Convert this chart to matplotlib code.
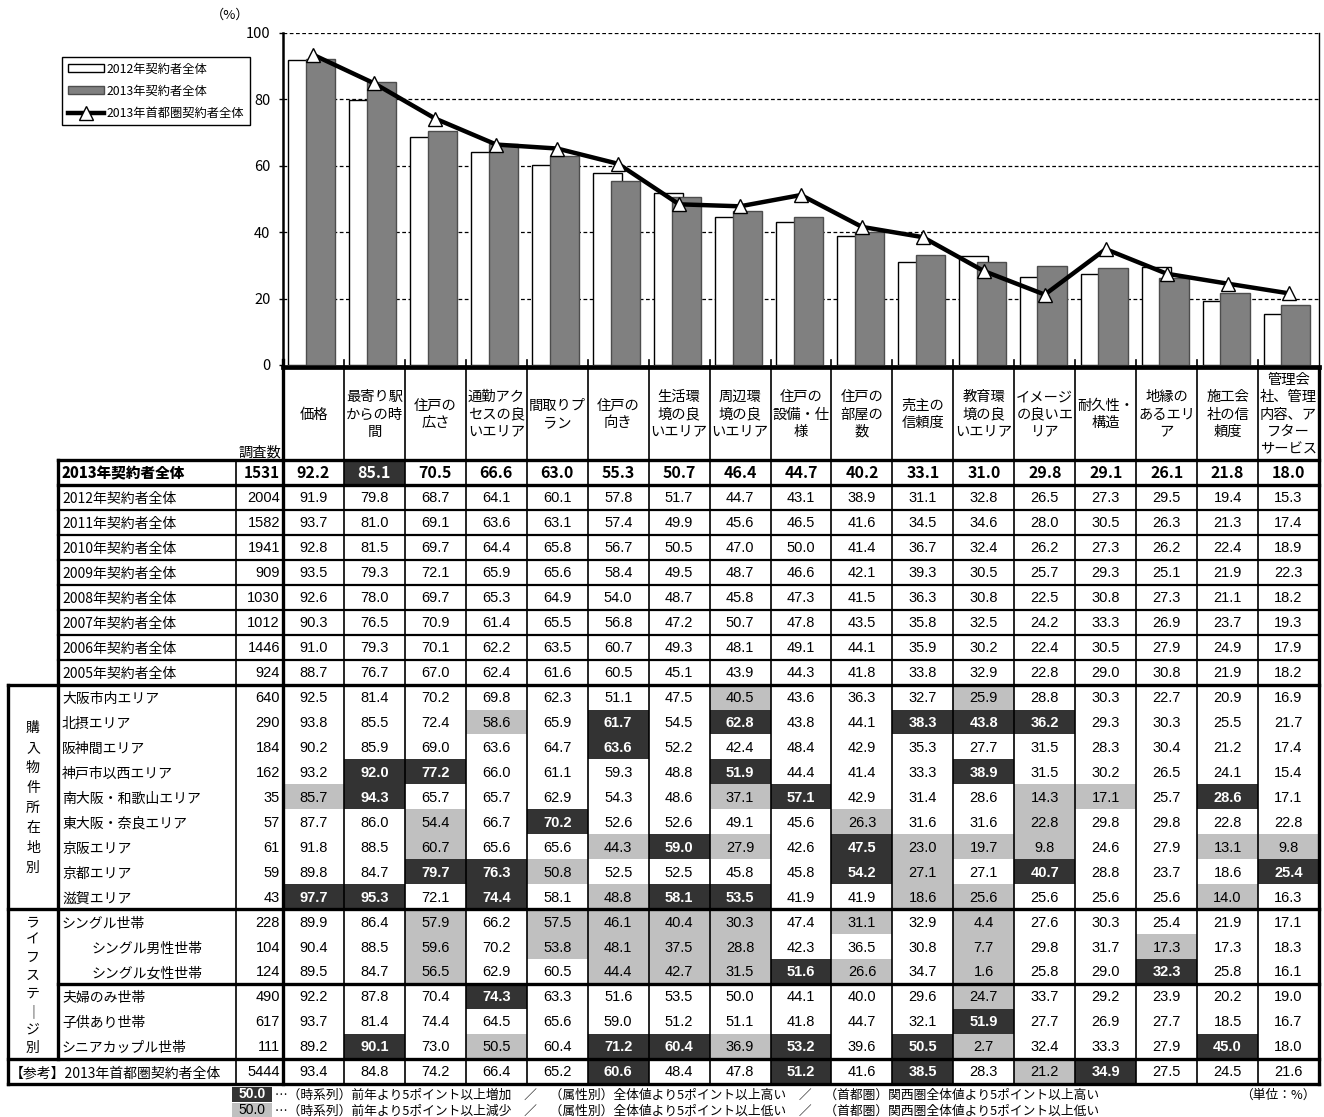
import numpy as np
import matplotlib
matplotlib.use('Agg')
import matplotlib.pyplot as plt
from matplotlib.patches import Rectangle

plt.rcParams['font.family'] = ['Noto Sans CJK JP', 'DejaVu Sans']
NUM_FONT = ['Liberation Sans Narrow', 'Liberation Sans', 'DejaVu Sans']

# item names (header cells, with the same line breaks as the sheet)
categories = ['価格', '最寄り駅\nからの時\n間', '住戸の\n広さ', '通勤アク\nセスの良\nいエリア',
              '間取りプ\nラン', '住戸の\n向き', '生活環\n境の良\nいエリア', '周辺環\n境の良\nいエリア',
              '住戸の\n設備・仕\n様', '住戸の\n部屋の\n数', '売主の\n信頼度', '教育環\n境の良\nいエリア',
              'イメージ\nの良いエ\nリア', '耐久性・\n構造', '地縁の\nあるエリ\nア', '施工会\n社の信\n頼度',
              '管理会\n社、管理\n内容、ア\nフター\nサービス']

# yearly totals
time_labels = ['2013年契約者全体', '2012年契約者全体', '2011年契約者全体', '2010年契約者全体',
               '2009年契約者全体', '2008年契約者全体', '2007年契約者全体', '2006年契約者全体',
               '2005年契約者全体']
time_n = [1531, 2004, 1582, 1941, 909, 1030, 1012, 1446, 924]
time_vals = [
    [92.2, 85.1, 70.5, 66.6, 63.0, 55.3, 50.7, 46.4, 44.7, 40.2, 33.1, 31.0, 29.8, 29.1, 26.1, 21.8, 18.0],
    [91.9, 79.8, 68.7, 64.1, 60.1, 57.8, 51.7, 44.7, 43.1, 38.9, 31.1, 32.8, 26.5, 27.3, 29.5, 19.4, 15.3],
    [93.7, 81.0, 69.1, 63.6, 63.1, 57.4, 49.9, 45.6, 46.5, 41.6, 34.5, 34.6, 28.0, 30.5, 26.3, 21.3, 17.4],
    [92.8, 81.5, 69.7, 64.4, 65.8, 56.7, 50.5, 47.0, 50.0, 41.4, 36.7, 32.4, 26.2, 27.3, 26.2, 22.4, 18.9],
    [93.5, 79.3, 72.1, 65.9, 65.6, 58.4, 49.5, 48.7, 46.6, 42.1, 39.3, 30.5, 25.7, 29.3, 25.1, 21.9, 22.3],
    [92.6, 78.0, 69.7, 65.3, 64.9, 54.0, 48.7, 45.8, 47.3, 41.5, 36.3, 30.8, 22.5, 30.8, 27.3, 21.1, 18.2],
    [90.3, 76.5, 70.9, 61.4, 65.5, 56.8, 47.2, 50.7, 47.8, 43.5, 35.8, 32.5, 24.2, 33.3, 26.9, 23.7, 19.3],
    [91.0, 79.3, 70.1, 62.2, 63.5, 60.7, 49.3, 48.1, 49.1, 44.1, 35.9, 30.2, 22.4, 30.5, 27.9, 24.9, 17.9],
    [88.7, 76.7, 67.0, 62.4, 61.6, 60.5, 45.1, 43.9, 44.3, 41.8, 33.8, 32.9, 22.8, 29.0, 30.8, 21.9, 18.2],
]
# D = 5pt or more above, L = 5pt or more below
time_marks = ['.D...............'] + ['.' * 17] * 8

# by purchase area
area_labels = ['大阪市内エリア', '北摂エリア', '阪神間エリア', '神戸市以西エリア', '南大阪・和歌山エリア',
               '東大阪・奈良エリア', '京阪エリア', '京都エリア', '滋賀エリア']
area_n = [640, 290, 184, 162, 35, 57, 61, 59, 43]
area_vals = [
    [92.5, 81.4, 70.2, 69.8, 62.3, 51.1, 47.5, 40.5, 43.6, 36.3, 32.7, 25.9, 28.8, 30.3, 22.7, 20.9, 16.9],
    [93.8, 85.5, 72.4, 58.6, 65.9, 61.7, 54.5, 62.8, 43.8, 44.1, 38.3, 43.8, 36.2, 29.3, 30.3, 25.5, 21.7],
    [90.2, 85.9, 69.0, 63.6, 64.7, 63.6, 52.2, 42.4, 48.4, 42.9, 35.3, 27.7, 31.5, 28.3, 30.4, 21.2, 17.4],
    [93.2, 92.0, 77.2, 66.0, 61.1, 59.3, 48.8, 51.9, 44.4, 41.4, 33.3, 38.9, 31.5, 30.2, 26.5, 24.1, 15.4],
    [85.7, 94.3, 65.7, 65.7, 62.9, 54.3, 48.6, 37.1, 57.1, 42.9, 31.4, 28.6, 14.3, 17.1, 25.7, 28.6, 17.1],
    [87.7, 86.0, 54.4, 66.7, 70.2, 52.6, 52.6, 49.1, 45.6, 26.3, 31.6, 31.6, 22.8, 29.8, 29.8, 22.8, 22.8],
    [91.8, 88.5, 60.7, 65.6, 65.6, 44.3, 59.0, 27.9, 42.6, 47.5, 23.0, 19.7, 9.8, 24.6, 27.9, 13.1, 9.8],
    [89.8, 84.7, 79.7, 76.3, 50.8, 52.5, 52.5, 45.8, 45.8, 54.2, 27.1, 27.1, 40.7, 28.8, 23.7, 18.6, 25.4],
    [97.7, 95.3, 72.1, 74.4, 58.1, 48.8, 58.1, 53.5, 41.9, 41.9, 18.6, 25.6, 25.6, 25.6, 25.6, 14.0, 16.3],
]
area_marks = ['.......L...L.....', '...L.D.D..DDD....', '.....D...........', '.DD....D...D.....',
              'LD.....LD...LL.D.', '..L.D....L..L....', '..L..LDL.DLLL..LL', '..DDL....DL.D...D',
              'DD.D.LDD..LL...L.']

# by life stage
life_labels = ['シングル世帯', 'シングル男性世帯', 'シングル女性世帯', '夫婦のみ世帯', '子供あり世帯',
               'シニアカップル世帯']
life_indent = [0, 1, 1, 0, 0, 0]
life_n = [228, 104, 124, 490, 617, 111]
life_vals = [
    [89.9, 86.4, 57.9, 66.2, 57.5, 46.1, 40.4, 30.3, 47.4, 31.1, 32.9, 4.4, 27.6, 30.3, 25.4, 21.9, 17.1],
    [90.4, 88.5, 59.6, 70.2, 53.8, 48.1, 37.5, 28.8, 42.3, 36.5, 30.8, 7.7, 29.8, 31.7, 17.3, 17.3, 18.3],
    [89.5, 84.7, 56.5, 62.9, 60.5, 44.4, 42.7, 31.5, 51.6, 26.6, 34.7, 1.6, 25.8, 29.0, 32.3, 25.8, 16.1],
    [92.2, 87.8, 70.4, 74.3, 63.3, 51.6, 53.5, 50.0, 44.1, 40.0, 29.6, 24.7, 33.7, 29.2, 23.9, 20.2, 19.0],
    [93.7, 81.4, 74.4, 64.5, 65.6, 59.0, 51.2, 51.1, 41.8, 44.7, 32.1, 51.9, 27.7, 26.9, 27.7, 18.5, 16.7],
    [89.2, 90.1, 73.0, 50.5, 60.4, 71.2, 60.4, 36.9, 53.2, 39.6, 50.5, 2.7, 32.4, 33.3, 27.9, 45.0, 18.0],
]
life_marks = ['..L.LLLL.L.L.....', '..L.LLLL...L..L..', '..L..LLLDL.L..D..',
              '...D.......L.....', '...........D.....', '.D.L.DDLD.DL...D.']

# Tokyo metropolitan area, for reference
ref_label = '【参考】2013年首都圏契約者全体'
ref_n = 5444
ref_vals = [93.4, 84.8, 74.2, 66.4, 65.2, 60.6, 48.4, 47.8, 51.2, 41.6, 38.5, 28.3, 21.2, 34.9, 27.5, 24.5, 21.6]
ref_marks = '.....D..D.D.LD...'

DARK = '#333333'
LIGHT = '#c0c0c0'
BAR_GRAY = '#808080'

W, H = 1324, 1117
fig = plt.figure(figsize=(W / 100, H / 100), dpi=100)

# ---------- table (pixel coordinates) ----------
tab = fig.add_axes([0, 0, 1, 1])
tab.set_xlim(0, W)
tab.set_ylim(H, 0)
tab.axis('off')

x_grp, x_lab, x_n, x_d0, x_end = 8, 58, 236, 283, 1319
cw = (x_end - x_d0) / len(categories)
y_head, y_body = 367, 460
rh = 24.95

all_rows = []
for i in range(len(time_labels)):
    all_rows.append((time_labels[i], time_n[i], time_vals[i], time_marks[i], 0, i == 0))
for i in range(len(area_labels)):
    all_rows.append((area_labels[i], area_n[i], area_vals[i], area_marks[i], 0, False))
for i in range(len(life_labels)):
    all_rows.append((life_labels[i], life_n[i], life_vals[i], life_marks[i], life_indent[i], False))
all_rows.append((ref_label, ref_n, ref_vals, ref_marks, -1, False))

row_top = [y_body + rh * i for i in range(len(all_rows) + 1)]
y_bot = row_top[-1]

# header
for j, name in enumerate(categories):
    tab.text(x_d0 + cw * (j + 0.5), (y_head + y_body) / 2 + 1, name, ha='center', va='center',
             fontsize=10.3, linespacing=1.3)
tab.text((x_n + x_d0) / 2, y_body - 1, '調査数', ha='center', va='bottom', fontsize=10.3)

for r, (label, n, vals, marks, indent, bold) in enumerate(all_rows):
    yt, yb = row_top[r], row_top[r + 1]
    yc = (yt + yb) / 2
    weight = 'bold' if bold else 'normal'
    for j, v in enumerate(vals):
        m = marks[j]
        color = 'black'
        w = weight
        if m == 'D':
            tab.add_patch(Rectangle((x_d0 + cw * j, yt), cw, yb - yt, fc=DARK, ec='none', zorder=1))
            color, w = 'white', 'bold'
        elif m == 'L':
            tab.add_patch(Rectangle((x_d0 + cw * j, yt), cw, yb - yt, fc=LIGHT, ec='none', zorder=1))
        if bold:
            tab.text(x_d0 + cw * (j + 0.5), yc + 1, f'{v:.1f}', ha='center', va='center',
                     fontsize=11.5, color=color, fontweight='bold', zorder=3)
        else:
            tab.text(x_d0 + cw * (j + 0.5), yc + 1, f'{v:.1f}', ha='center', va='center',
                     fontsize=10.5, color=color, fontweight=w, family=NUM_FONT, zorder=3)
    if bold:
        tab.text(x_d0 - 3, yc + 1, str(n), ha='right', va='center', fontsize=11, fontweight='bold', zorder=3)
        tab.text(x_lab + 4, yc + 1.5, label, ha='left', va='center', fontsize=10.5, fontweight='heavy', zorder=3)
    else:
        tab.text(x_d0 - 3, yc + 1, str(n), ha='right', va='center', fontsize=10.5,
                 family=NUM_FONT, zorder=3)
        lx = x_grp + 2 if indent < 0 else x_lab + 4 + 30 * indent
        tab.text(lx, yc + 2, label, ha='left', va='center', fontsize=10, zorder=3)

# vertical group captions
n_time, n_area, n_life = len(time_labels), len(area_labels), len(life_labels)
grp_specs = [('購入物件所在地別', row_top[n_time], row_top[n_time + n_area], 20),
             ('ライフステ｜ジ別', row_top[n_time + n_area], row_top[n_time + n_area + n_life], 18)]
for text, ya, yb, step in grp_specs:
    yc = (ya + yb) / 2
    for k, ch in enumerate(text):
        tab.text((x_grp + x_lab) / 2, yc + 1 + (k - (len(text) - 1) / 2) * step, ch,
                 ha='center', va='center', fontsize=10, zorder=3)

# grid lines
thin, thick = 1.2, 2.4
lk = dict(color='black', zorder=4, solid_capstyle='projecting')
for j in range(1, len(categories)):
    tab.plot([x_d0 + cw * j] * 2, [360, y_bot], lw=thin, **lk)
tab.plot([x_d0] * 2, [360, y_bot], lw=thick, **lk)
tab.plot([x_end] * 2, [y_head, y_bot], lw=thick, **lk)
tab.plot([x_n] * 2, [y_body, y_bot], lw=thin, **lk)
tab.plot([x_lab] * 2, [y_body, row_top[-2]], lw=thick, **lk)
tab.plot([x_grp] * 2, [row_top[n_time], y_bot], lw=thick, **lk)
tab.plot([x_d0, x_end], [y_head, y_head], lw=thick + 1, **lk)
tab.plot([x_lab, x_end], [y_body, y_body], lw=thick, **lk)
tab.plot([x_lab, x_end], [row_top[1], row_top[1]], lw=thick, **lk)
for r in range(2, n_time):
    tab.plot([x_lab, x_end], [row_top[r]] * 2, lw=thin + 0.4, **lk)
for r in [n_time, n_time + n_area, n_time + n_area + n_life, len(all_rows)]:
    tab.plot([x_grp, x_end], [row_top[r]] * 2, lw=thick, **lk)
tab.plot([x_lab, x_end], [row_top[n_time + n_area + 3]] * 2, lw=thick, **lk)

# footnotes
fy1, fy2 = 1094, 1110
for fy, fc, tc, txt in [
        (fy1, DARK, 'white', '…（時系列）前年より5ポイント以上増加　／　（属性別）全体値より5ポイント以上高い　／　（首都圏）関西圏全体値より5ポイント以上高い'),
        (fy2, LIGHT, 'black', '…（時系列）前年より5ポイント以上減少　／　（属性別）全体値より5ポイント以上低い　／　（首都圏）関西圏全体値より5ポイント以上低い')]:
    tab.add_patch(Rectangle((232, fy - 7.5), 40, 15, fc=fc, ec='none'))
    tab.text(252, fy + 0.5, '50.0', ha='center', va='center', fontsize=10, color=tc,
             fontweight='bold' if tc == 'white' else 'normal', family=NUM_FONT)
    tab.text(275, fy + 1, txt, ha='left', va='center', fontsize=9.2)
tab.text(1316, fy1 + 1, '（単位：%）', ha='right', va='center', fontsize=9.2)

# ---------- bar / line chart ----------
ax = fig.add_axes([x_d0 / W, 1 - 365 / H, (x_end - x_d0) / W, (365 - 33) / H])
ax.set_facecolor('none')
x = np.arange(len(categories))
bw = 0.48
b12 = ax.bar(x - 0.17, time_vals[1], bw, color='white', edgecolor='black', linewidth=1.0,
             label='2012年契約者全体', zorder=2)
b13 = ax.bar(x + 0.12, time_vals[0], bw, color=BAR_GRAY, edgecolor='#4d4d4d', linewidth=1.0,
             label='2013年契約者全体', zorder=3)
ln, = ax.plot(x, ref_vals, color='black', lw=3.2, marker='^', markersize=10,
              markerfacecolor='white', markeredgecolor='black', markeredgewidth=1.0,
              label='2013年首都圏契約者全体', zorder=4)
ax.set_xlim(-0.5, len(categories) - 0.5)
ax.set_ylim(0, 100)
ax.set_yticks(np.arange(0, 101, 20))
for yv in range(20, 101, 20):
    ax.axhline(yv, color='black', lw=0.9, ls=(0, (3, 2)), zorder=1)
ax.set_xticks([])
ax.tick_params(axis='y', direction='out', length=3, width=1, labelsize=10.5, pad=6)
ax.spines['top'].set_visible(False)
ax.spines['bottom'].set_visible(False)
ax.spines['left'].set_linewidth(1.8)
ax.spines['right'].set_linewidth(1.0)
ax.text(-0.032, 1.035, '（%）', transform=ax.transAxes, ha='right', va='bottom', fontsize=9.5)

leg = fig.legend(handles=[b12, b13, ln], loc='upper left',
                 bbox_to_anchor=(62 / W, 1 - 57 / H), fontsize=8.8, fancybox=False,
                 edgecolor='black', framealpha=1, handlelength=3.0, handleheight=0.6,
                 borderpad=0.45, labelspacing=0.75, handletextpad=0.2, borderaxespad=0)
leg.get_frame().set_linewidth(1.0)

fig.savefig('out.png', dpi=100)
